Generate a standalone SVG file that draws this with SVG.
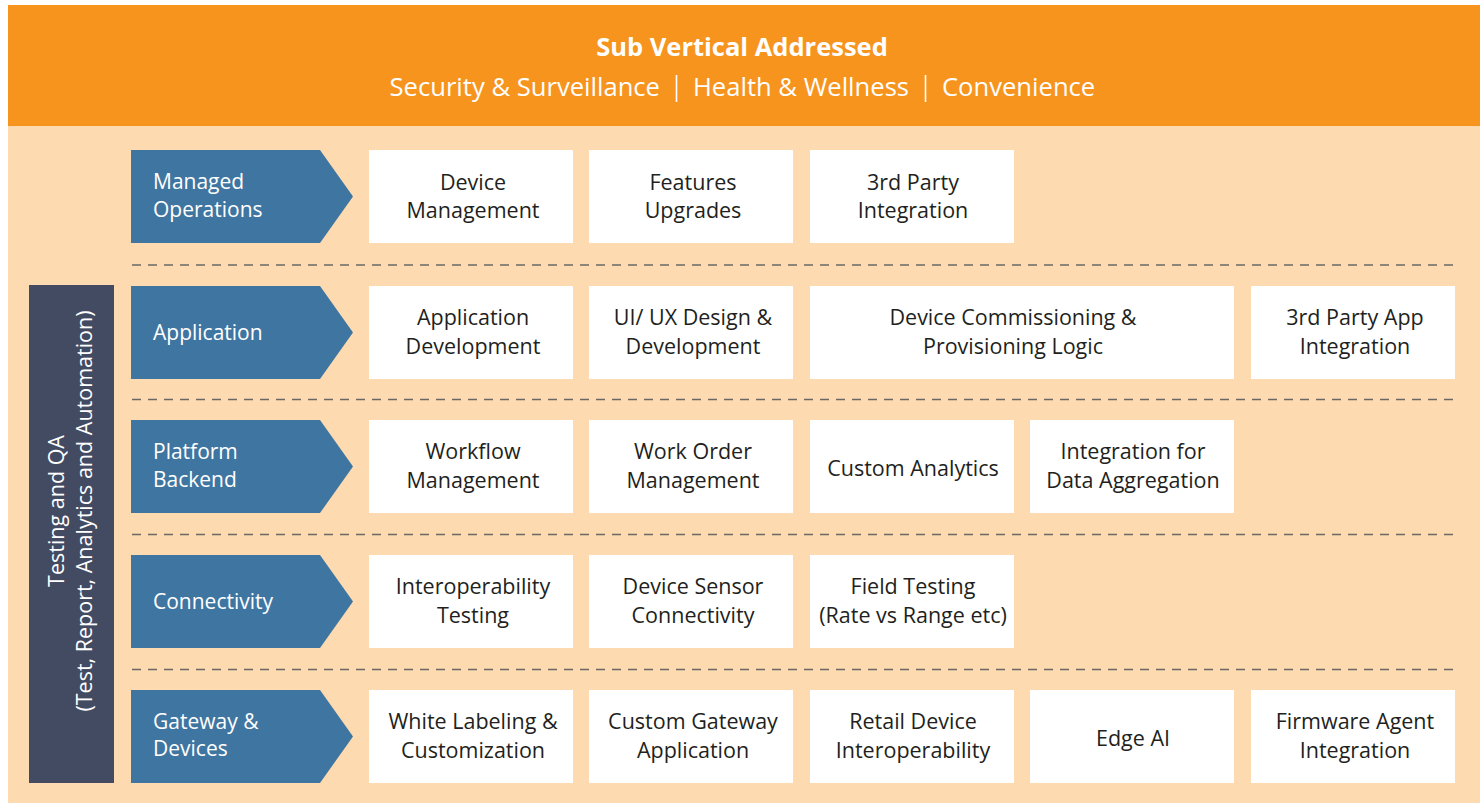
<svg xmlns="http://www.w3.org/2000/svg" width="1480" height="803" viewBox="0 0 1480 803">
<style>
.hdr{fill:#fff;font-family:"Open Sans","Liberation Sans",sans-serif;text-anchor:middle}
.hdr2{fill:#fff;font-family:"Open Sans","Liberation Sans",sans-serif;font-size:25.6px}
.pipe{stroke:#fff;stroke-width:1.6}
.chev{fill:#3f76a1}
.chevt{fill:#fff;font-family:"Open Sans","Liberation Sans",sans-serif;font-size:21px}
.box{fill:#fff}
.bt{fill:#231f20;font-family:"Open Sans","Liberation Sans",sans-serif;font-size:21.5px;text-anchor:middle}
.dash{stroke:#6b6865;stroke-width:1.4;stroke-dasharray:9 7;fill:none}
.side{fill:#434b63}
.sidet{fill:#fff;font-family:"Open Sans","Liberation Sans",sans-serif;font-size:21.5px;text-anchor:middle}
</style>
<rect x="0" y="0" width="1480" height="803" fill="#fff"/>
<rect x="8" y="126" width="1472" height="677" fill="#fddab0"/>
<g id="header">
<rect x="8" y="5" width="1472" height="121" fill="#f7941e"/>
<text class="hdr" x="742" y="56" font-size="25.5" font-weight="bold">Sub Vertical Addressed</text>
<text class="hdr2" x="660" y="96" text-anchor="end">Security &amp; Surveillance</text>
<line class="pipe" x1="676.5" y1="75" x2="676.5" y2="102"/>
<text class="hdr2" x="801" y="96" text-anchor="middle">Health &amp; Wellness</text>
<line class="pipe" x1="925.5" y1="75" x2="925.5" y2="102"/>
<text class="hdr2" x="942" y="96">Convenience</text>
</g>
<g id="connectors">
<line class="dash" x1="132" y1="265" x2="1455" y2="265"/>
<line class="dash" x1="132" y1="399.5" x2="1455" y2="399.5"/>
<line class="dash" x1="132" y1="534.5" x2="1455" y2="534.5"/>
<line class="dash" x1="132" y1="669.5" x2="1455" y2="669.5"/>
</g>
<g id="testing-qa">
<rect class="side" x="29" y="285" width="85" height="498"/>
<text class="sidet" transform="translate(71,511) rotate(-90)"><tspan x="0" y="-7">Testing and QA</tspan><tspan x="0" y="21">(Test, Report, Analytics and Automation)</tspan></text>
</g>
<g id="managed-operations">
<polygon class="chev" points="131,150 320,150 353,196.5 320,243 131,243"/>
<text class="chevt" x="153" y="189">Managed</text>
<text class="chevt" x="153" y="217">Operations</text>
</g>
<g id="device-management"><rect class="box" x="369" y="150" width="204" height="93"/><text class="bt" x="473" y="190">Device</text><text class="bt" x="473" y="218">Management</text></g>
<g id="features-upgrades"><rect class="box" x="589" y="150" width="204" height="93"/><text class="bt" x="693" y="190">Features</text><text class="bt" x="693" y="218">Upgrades</text></g>
<g id="third-party-integration"><rect class="box" x="810" y="150" width="204" height="93"/><text class="bt" x="913" y="190">3rd Party</text><text class="bt" x="913" y="218">Integration</text></g>

<g id="application">
<polygon class="chev" points="131,286 320,286 353,332.5 320,379 131,379"/>
<text class="chevt" x="153" y="340">Application</text>
</g>
<g id="application-development"><rect class="box" x="369" y="286" width="204" height="93"/><text class="bt" x="473" y="325">Application</text><text class="bt" x="473" y="354">Development</text></g>
<g id="ui-ux-design"><rect class="box" x="589" y="286" width="204" height="93"/><text class="bt" x="693" y="325">UI/ UX Design &amp;</text><text class="bt" x="693" y="354">Development</text></g>
<g id="device-commissioning"><rect class="box" x="810" y="286" width="424" height="93"/><text class="bt" x="1013" y="325">Device Commissioning &amp;</text><text class="bt" x="1013" y="354">Provisioning Logic</text></g>
<g id="third-party-app"><rect class="box" x="1251" y="286" width="204" height="93"/><text class="bt" x="1355" y="325">3rd Party App</text><text class="bt" x="1355" y="354">Integration</text></g>

<g id="platform-backend">
<polygon class="chev" points="131,420 320,420 353,466.5 320,513 131,513"/>
<text class="chevt" x="153" y="459">Platform</text>
<text class="chevt" x="153" y="487">Backend</text>
</g>
<g id="workflow-management"><rect class="box" x="369" y="420" width="204" height="93"/><text class="bt" x="473" y="459">Workflow</text><text class="bt" x="473" y="488">Management</text></g>
<g id="work-order-management"><rect class="box" x="589" y="420" width="204" height="93"/><text class="bt" x="693" y="459">Work Order</text><text class="bt" x="693" y="488">Management</text></g>
<g id="custom-analytics"><rect class="box" x="810" y="420" width="204" height="93"/><text class="bt" x="913" y="476">Custom Analytics</text></g>
<g id="integration-data"><rect class="box" x="1030" y="420" width="204" height="93"/><text class="bt" x="1133" y="459">Integration for</text><text class="bt" x="1133" y="488">Data Aggregation</text></g>

<g id="connectivity">
<polygon class="chev" points="131,555 320,555 353,601.5 320,648 131,648"/>
<text class="chevt" x="153" y="609">Connectivity</text>
</g>
<g id="interoperability-testing"><rect class="box" x="369" y="555" width="204" height="93"/><text class="bt" x="473" y="594">Interoperability</text><text class="bt" x="473" y="623">Testing</text></g>
<g id="device-sensor"><rect class="box" x="589" y="555" width="204" height="93"/><text class="bt" x="693" y="594">Device Sensor</text><text class="bt" x="693" y="623">Connectivity</text></g>
<g id="field-testing"><rect class="box" x="810" y="555" width="204" height="93"/><text class="bt" x="913" y="594">Field Testing</text><text class="bt" x="913" y="623">(Rate vs Range etc)</text></g>

<g id="gateway-devices">
<polygon class="chev" points="131,690 320,690 353,736.5 320,783 131,783"/>
<text class="chevt" x="153" y="729">Gateway &amp;</text>
<text class="chevt" x="153" y="756">Devices</text>
</g>
<g id="white-labeling"><rect class="box" x="369" y="690" width="204" height="93"/><text class="bt" x="473" y="729">White Labeling &amp;</text><text class="bt" x="473" y="758">Customization</text></g>
<g id="custom-gateway"><rect class="box" x="589" y="690" width="204" height="93"/><text class="bt" x="693" y="729">Custom Gateway</text><text class="bt" x="693" y="758">Application</text></g>
<g id="retail-device"><rect class="box" x="810" y="690" width="204" height="93"/><text class="bt" x="913" y="729">Retail Device</text><text class="bt" x="913" y="758">Interoperability</text></g>
<g id="edge-ai"><rect class="box" x="1030" y="690" width="204" height="93"/><text class="bt" x="1133" y="746">Edge AI</text></g>
<g id="firmware-agent"><rect class="box" x="1251" y="690" width="204" height="93"/><text class="bt" x="1355" y="729">Firmware Agent</text><text class="bt" x="1355" y="758">Integration</text></g>
</svg>
